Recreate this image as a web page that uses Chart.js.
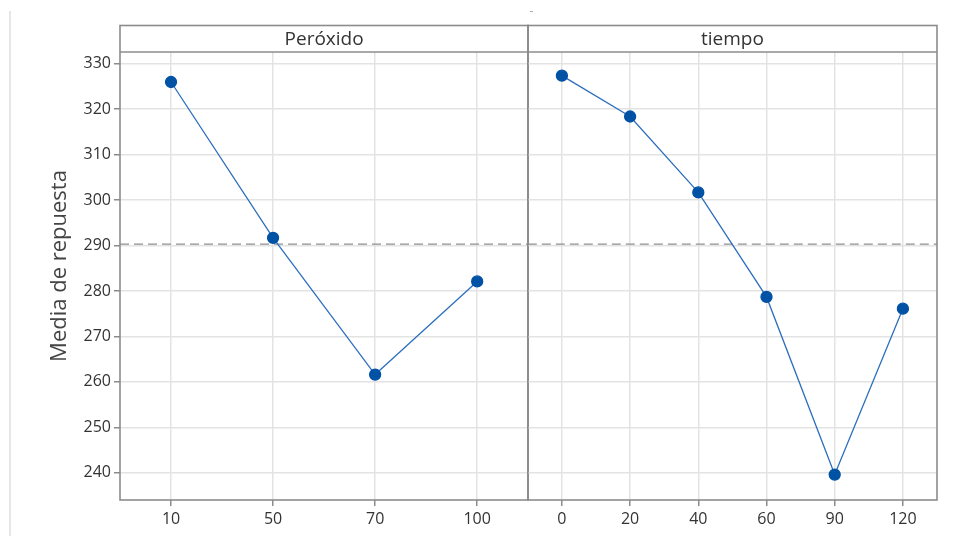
<!DOCTYPE html>
<html>
<head>
<meta charset="utf-8">
<script src="https://cdn.jsdelivr.net/npm/chart.js@4.4.1/dist/chart.umd.min.js"></script>
<style>
  html, body { margin: 0; padding: 0; background: #fff; }
  #wrap { position: relative; width: 968px; height: 536px; overflow: hidden; }
  .panel { position: absolute; top: 0; height: 536px; }
  #leftBorder { position: absolute; left: 9px; top: 11px; width: 2px; height: 525px; background: #e6e6e6; }
  #mark { position: absolute; left: 530px; top: 11px; width: 3px; height: 1px; background: #aaa; }
</style>
</head>
<body>
<div id="wrap">
  <div id="leftBorder"></div>
  <div id="mark"></div>
  <div class="panel" style="left:0; width:535px;"><canvas id="chartPeroxido"></canvas></div>
  <div class="panel" style="left:521px; width:447px;"><canvas id="chartTiempo"></canvas></div>
</div>
<script>
// Main effects: mean response per factor level
const peroxidoLevels = ["10", "50", "70", "100"];
const peroxidoMeans = [326.0, 291.7, 261.6, 282.1];

const tiempoLevels = ["0", "20", "40", "60", "90", "120"];
const tiempoMeans = [327.4, 318.4, 301.7, 278.7, 239.6, 276.1];

const grandMean = 290.3;
const yTicks = [240, 250, 260, 270, 280, 290, 300, 310, 320, 330];
const yMin = 234, yMax = 332.6;

const FONT = "'Open Sans', 'Noto Sans', sans-serif";
const frameColor = "#8c8c8c";
const gridColor = "#e3e3e3";
const textColor = "#333";
const stripTop = 25.5;

// draws the factor strip, the panel frame and the dashed grand-mean line
const panelPlugin = {
    id: "panelFrame",
    beforeDatasetsDraw(chart) {
        const { ctx, chartArea: a, scales } = chart;
        const y = scales.y.getPixelForValue(grandMean);
        ctx.save();
        ctx.strokeStyle = "#8f8f8f";
        ctx.lineWidth = 1.3;
        ctx.setLineDash([9, 5]);
        ctx.beginPath();
        ctx.moveTo(a.left, y);
        ctx.lineTo(a.right, y);
        ctx.stroke();
        ctx.restore();
    },
    afterDraw(chart, args, opts) {
        const { ctx, chartArea: a } = chart;
        ctx.save();
        ctx.strokeStyle = frameColor;
        ctx.lineWidth = 1.6;
        ctx.strokeRect(a.left, stripTop, a.right - a.left, a.bottom - stripTop);
        ctx.beginPath();
        ctx.moveTo(a.left, a.top);
        ctx.lineTo(a.right, a.top);
        ctx.stroke();
        ctx.fillStyle = textColor;
        ctx.font = "19px " + FONT;
        ctx.textAlign = "center";
        ctx.textBaseline = "middle";
        ctx.fillText(opts.label, (a.left + a.right) / 2, (stripTop + a.top) / 2 + 1);
        if (opts.yTitle) {
            ctx.translate(60, 266);
            ctx.rotate(-Math.PI / 2);
            ctx.fillStyle = "#444";
            ctx.font = "22px " + FONT;
            ctx.fillText(opts.yTitle, 0, 0);
        }
        ctx.restore();
    }
};

function makePanel(canvasId, levels, means, label, showY, padding) {
    return new Chart(document.getElementById(canvasId), {
        type: "line",
        data: {
            labels: levels,
            datasets: [{
                data: means,
                borderColor: "#2d6fbd",
                borderWidth: 1.3,
                pointBackgroundColor: "#0052a5",
                pointBorderColor: "#0052a5",
                pointRadius: 5.5,
                pointHoverRadius: 5.5,
                tension: 0
            }]
        },
        options: {
            responsive: true,
            maintainAspectRatio: false,
            animation: false,
            layout: { padding: padding },
            plugins: {
                legend: { display: false },
                tooltip: { enabled: false },
                panelFrame: { label: label, yTitle: showY ? "Media de repuesta" : null }
            },
            scales: {
                x: {
                    type: "category",
                    offset: true,
                    grid: { color: gridColor, lineWidth: 1.5, tickColor: frameColor, tickLength: 6, offset: false },
                    border: { display: false },
                    ticks: { color: textColor, font: { family: FONT, size: 16 }, padding: 4, maxRotation: 0 },
                    afterFit(scale) { scale.height = 36; }
                },
                y: {
                    min: yMin,
                    max: yMax,
                    afterBuildTicks(scale) { scale.ticks = yTicks.map(v => ({ value: v })); },
                    grid: { color: gridColor, lineWidth: 1.5, tickColor: frameColor, tickLength: 6, drawTicks: showY },
                    border: { display: false },
                    ticks: { display: showY, color: textColor, font: { family: FONT, size: 16 }, padding: 3 },
                    afterFit(scale) { scale.width = showY ? 120 : 0; }
                }
            }
        },
        plugins: [panelPlugin]
    });
}

makePanel("chartPeroxido", peroxidoLevels, peroxidoMeans, "Peróxido", true,
    { left: 0, right: 0, top: 52, bottom: 0 });
makePanel("chartTiempo", tiempoLevels, tiempoMeans, "tiempo", false,
    { left: 0, right: 31, top: 52, bottom: 0 });
</script>
</body>
</html>
